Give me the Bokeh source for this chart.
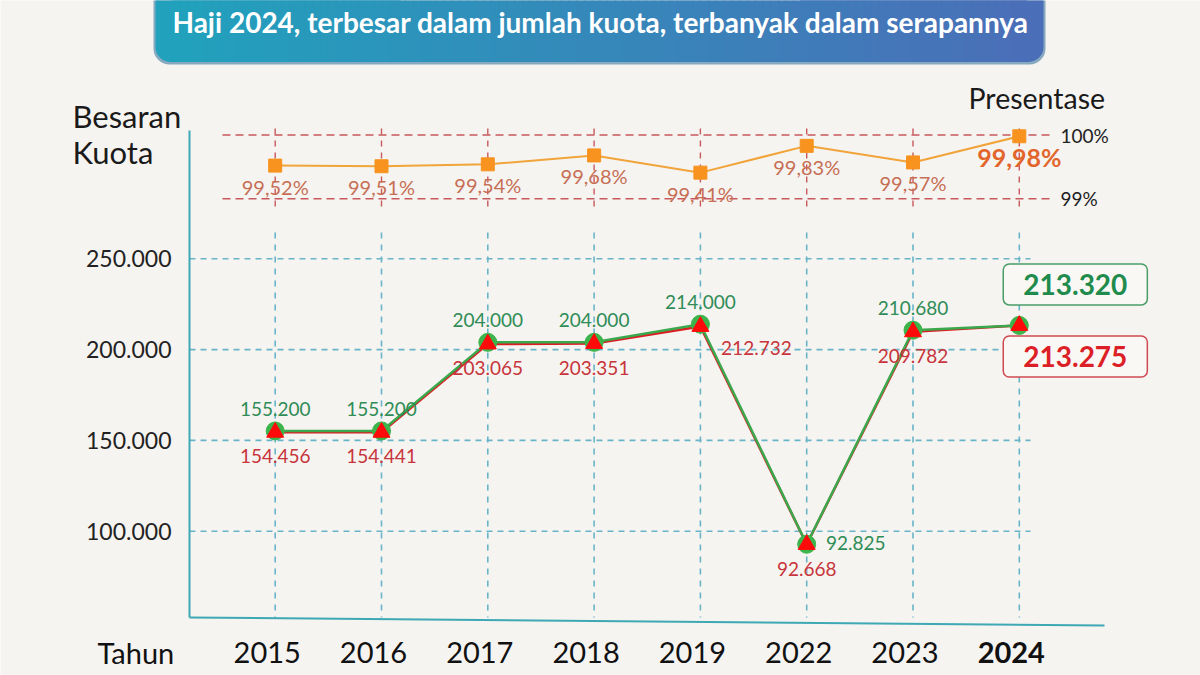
from bokeh.plotting import figure
from bokeh.models import Range1d, Label, ColumnDataSource
from bokeh.core.properties import value
from bokeh.embed import file_html
from bokeh.resources import INLINE
import numpy as np

# ---------------- data ----------------
years = ["2015", "2016", "2017", "2018", "2019", "2022", "2023", "2024"]
kuota = [155200, 155200, 204000, 204000, 214000, 92825, 210680, 213320]        # green
terserap = [154456, 154441, 203065, 203351, 212732, 92668, 209782, 213275]     # red
persen = [99.52, 99.51, 99.54, 99.68, 99.41, 99.83, 99.57, 99.98]              # orange
y_ticks = [100000, 150000, 200000, 250000]
pct_ticks = [99, 100]

title_text = "Haji 2024, terbesar dalam jumlah kuota, terbanyak dalam serapannya"

# ---------------- layout helpers (pixel -> data) ----------------
W, H = 1200, 675
X0, DXP = 274.7, 106.3            # px of first category, px per category
Y100K, PX_PER_K = 530.7, 1.816    # px of 100.000, px per 1.000
P100, PX_PER_PCT = 134.5, 63.8    # px of 100 %, px per 1 %


def dx(px):
    return (px - X0) / DXP


def dy(py):
    return 100000 + (Y100K - py) / PX_PER_K * 1000


def dp(py):
    return 100 + (P100 - py) / PX_PER_PCT


def fmt(v):
    return f"{v:,}".replace(",", ".")


def fmt_pct(v):
    return f"{v:.2f}%".replace(".", ",")


BG = "#f6f4f1"
FONT = value("Lato")
TEAL = "#3ea8b4"
GRID = "#68b4c8"
RED_DASH = "#c8585c"

p = figure(width=W, height=H, title=None,
           x_range=Range1d(dx(0), dx(W)), y_range=Range1d(dy(H), dy(0)),
           x_axis_type=None, y_axis_type=None,
           toolbar_location=None, output_backend="svg", min_border=0,
           background_fill_color=BG, border_fill_color=BG, outline_line_color=None)
p.extra_y_ranges = {"pct": Range1d(dp(H), dp(0))}

xs = list(range(len(years)))


def screen_label(text, x, y_px, size, align="left", color="#1a1a1a", style="normal"):
    p.add_layout(Label(x=x, y=H - y_px, x_units="screen", y_units="screen", text=text,
                       text_align=align, text_baseline="middle", text_font="Lato",
                       text_font_size=size, text_color=color, text_font_style=style))


# ---------------- title banner ----------------
p.quad(left=dx(153), right=dx(1045), top=dy(-30), bottom=dy(64),
       fill_color="#2c6c98", fill_alpha=0.55, line_color=None, border_radius=16)
p.quad(left=dx(155), right=dx(400), top=dy(-30), bottom=dy(61.5),
       fill_color="#21a1bc", line_color=None, border_radius=15)
p.quad(left=dx(800), right=dx(1043), top=dy(-30), bottom=dy(61.5),
       fill_color="#4a6fb8", line_color=None, border_radius=15)
n_strips = 110
edges = np.linspace(172, 1026, n_strips + 1)
c0 = np.array([0x21, 0xa1, 0xbc])
c1 = np.array([0x4a, 0x6f, 0xb8])
cols = []
for k in range(n_strips):
    t = k / (n_strips - 1)
    c = (c0 * (1 - t) + c1 * t).round().astype(int)
    cols.append("#%02x%02x%02x" % tuple(c))
p.quad(left=[dx(e) for e in edges[:-1]], right=[dx(e + 0.8) for e in edges[1:]],
       top=dy(-30), bottom=dy(61.5), fill_color=cols, line_color=None)
screen_label(title_text, 600, 21, "28px", align="center", color="white", style="bold")

# ---------------- grid / axes ----------------
p.segment(x0=[dx(189)] * len(y_ticks), x1=[dx(1030)] * len(y_ticks), y0=y_ticks, y1=y_ticks,
          line_color=GRID, line_width=1.6, line_dash="6 5")
p.segment(x0=xs, x1=xs, y0=[dy(232)] * len(xs), y1=[dy(617)] * len(xs),
          line_color=GRID, line_width=1.6, line_dash="6 6")
p.segment(x0=xs, x1=xs, y0=[dp(128)] * len(xs), y1=[dp(212)] * len(xs),
          line_color=RED_DASH, line_width=1.4, line_dash="6 6", y_range_name="pct")
p.segment(x0=[dx(222)] * 2, x1=[dx(1052)] * 2, y0=pct_ticks, y1=pct_ticks,
          line_color=RED_DASH, line_width=1.4, line_dash="8 5", y_range_name="pct")
p.segment(x0=[dx(189), dx(189)], x1=[dx(189), dx(1104)], y0=[dy(130), dy(617)], y1=[dy(617), dy(625)],
          line_color=TEAL, line_width=2)

# tick labels
p.text(x=[dx(171)] * len(y_ticks), y=y_ticks, text=[fmt(t) for t in y_ticks],
       text_align="right", text_baseline="middle", text_font=FONT,
       text_font_size="23px", text_color="#222222")
p.text(x=[dx(1060)] * len(pct_ticks), y=pct_ticks, text=[f"{t}%" for t in pct_ticks],
       text_align="left", text_baseline="middle", text_font=FONT,
       text_font_size="19px", text_color="#222222", y_range_name="pct")
p.text(x=xs, y=[dy(652)] * len(xs), text=years, x_offset=-8,
       text_align="center", text_baseline="middle", text_font=FONT, text_font_size="29px",
       text_color="#111111",
       text_font_style=["normal"] * (len(years) - 1) + ["bold"])

screen_label("Tahun", 97, 652, "29px", color="#111111")
screen_label("Besaran", 72, 115.5, "31px")
screen_label("Kuota", 72, 151.5, "31px")
screen_label("Presentase", 968, 97.5, "28.5px")

# ---------------- percentage series ----------------
p.line(xs, persen, y_range_name="pct", line_color="#f0a43a", line_width=2)
p.scatter(xs, persen, y_range_name="pct", marker="square", size=13,
          fill_color="#f7931e", line_color="#f7931e")
last = len(years) - 1
pct_src = ColumnDataSource(dict(
    x=xs, y=persen, t=[fmt_pct(v) for v in persen],
    c=["#c66f55"] * last + ["#e2662c"],
    s=["20px"] * last + ["25px"],
    st=["normal"] * last + ["bold"],
))
p.text(x="x", y="y", text="t", source=pct_src, y_range_name="pct", y_offset=21,
       text_align="center", text_baseline="middle", text_font=FONT,
       text_font_size="s", text_color="c", text_font_style="st")

# ---------------- quota series ----------------
p.line(xs, terserap, line_color="#dd1c22", line_width=2.5)
p.line(xs, kuota, line_color="#3ba84d", line_width=2.5)
p.scatter(xs, kuota, marker="circle", size=18, fill_color="#3cb44b", line_color="#3cb44b")
p.scatter(xs, terserap, marker="triangle", size=17, fill_color="#ff0a0a", line_color="#ff0a0a")

green_pos = ["above", "above", "above", "above", "above", "right", "above", "box"]
red_pos = ["below", "below", "below", "below", "right", "below", "below", "box"]
g_off = {"above": (0, -22), "right": (49, -1)}
r_off = {"below": (0, 24), "right": (56, 22)}

gi = [i for i in xs if green_pos[i] != "box"]
p.text(x=gi, y=[kuota[i] for i in gi], text=[fmt(kuota[i]) for i in gi],
       x_offset=[g_off[green_pos[i]][0] for i in gi], y_offset=[g_off[green_pos[i]][1] for i in gi],
       text_align="center", text_baseline="middle", text_font=FONT, text_font_size="19px",
       text_color="#2f8c56")
ri = [i for i in xs if red_pos[i] != "box"]
p.text(x=ri, y=[terserap[i] for i in ri], text=[fmt(terserap[i]) for i in ri],
       x_offset=[r_off[red_pos[i]][0] for i in ri], y_offset=[r_off[red_pos[i]][1] for i in ri],
       text_align="center", text_baseline="middle", text_font=FONT, text_font_size="19px",
       text_color="#c7343b")

# highlighted 2024 boxes
p.add_layout(Label(x=last, y=kuota[last], x_offset=56, y_offset=41, text=fmt(kuota[last]),
                   text_align="center", text_baseline="middle", text_font="Lato",
                   text_font_size="28px", text_font_style="bold", text_color="#1f8b4c",
                   background_fill_color="#faf8f5", border_line_color="#4a9d68",
                   border_line_width=1.5, border_radius=6, padding=(20, 10)))
p.add_layout(Label(x=last, y=terserap[last], x_offset=56, y_offset=-31, text=fmt(terserap[last]),
                   text_align="center", text_baseline="middle", text_font="Lato",
                   text_font_size="28px", text_font_style="bold", text_color="#dc1f27",
                   background_fill_color="#faf8f5", border_line_color="#cf4a50",
                   border_line_width=1.5, border_radius=6, padding=(20, 10)))

open("out.html", "w").write(file_html(p, INLINE))
